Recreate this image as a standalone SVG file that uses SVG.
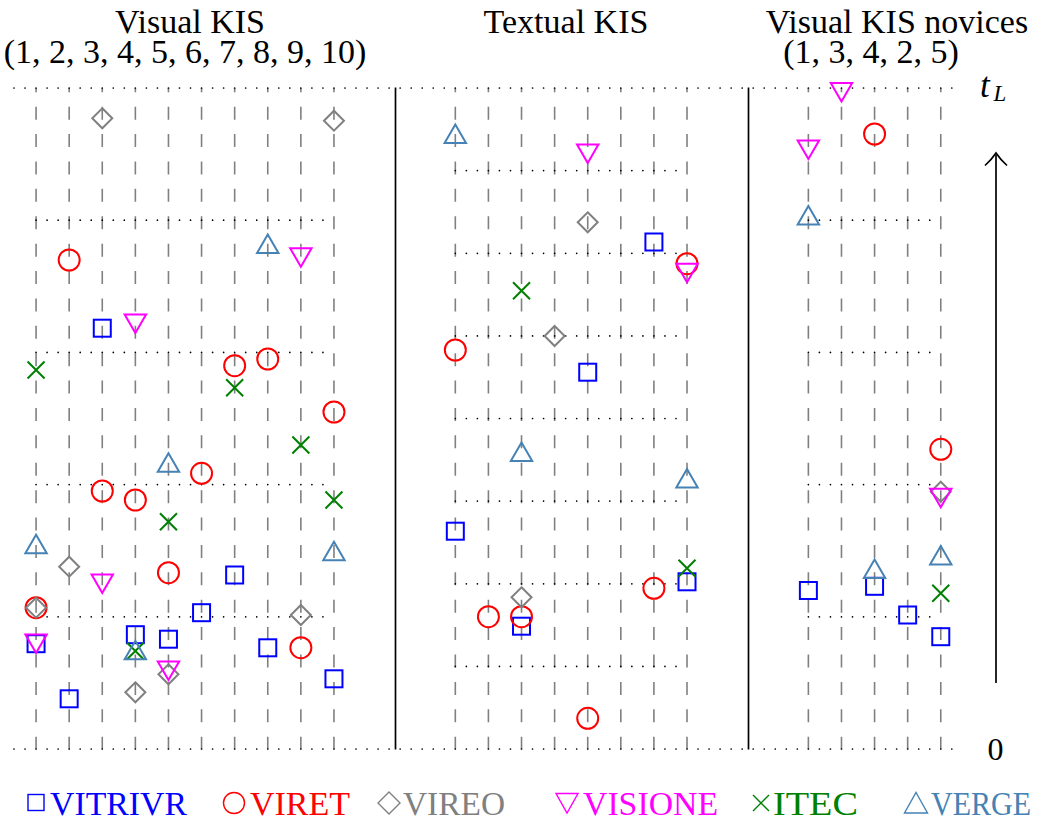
<svg xmlns="http://www.w3.org/2000/svg" xmlns:xlink="http://www.w3.org/1999/xlink" width="1043" height="821" viewBox="0 0 1043 821">
  <style>
    .title { font-family: "Liberation Serif", "DejaVu Serif", serif; font-size: 34px; fill: #000; text-anchor: middle; }
    .axis { font-family: "Liberation Serif", "DejaVu Serif", serif; fill: #000; }
    .leg { font-family: "Liberation Serif", "DejaVu Serif", serif; font-size: 34px; }
    .grid { stroke: #808080; stroke-width: 1.6; stroke-dasharray: 13 14.39; stroke-dashoffset: 8.7; fill: none; }
    .dots { stroke: #000; stroke-width: 1.7; stroke-linecap: round; stroke-dasharray: 0 11.033; fill: none; }
    .sep { stroke: #000; stroke-width: 1.7; fill: none; }
    .mk { fill: none; stroke-width: 2; }
    .lm { fill: none; stroke-width: 1.4; }
    .vitrivr { stroke: #0000ff; fill: none; }
    .viret { stroke: #ff0000; fill: none; }
    .vireo { stroke: #808080; fill: none; }
    .visione { stroke: #ff00ff; fill: none; }
    .itec { stroke: #008000; fill: none; }
    .verge { stroke: #4682b4; fill: none; }
  </style>
  <defs>
    <!-- plot marks, centred on (0,0) -->
    <rect id="sq" class="mk" x="-8.5" y="-8.5" width="17" height="17"/>
    <circle id="ci" class="mk" r="10.5"/>
    <path id="di" class="mk" d="M0,-10 L10,0 L0,10 L-10,0 Z"/>
    <path id="tu" class="mk" d="M0,-9.8 L10.7,8.8 L-10.7,8.8 Z"/>
    <path id="td" class="mk" d="M0,9.8 L10.7,-8.8 L-10.7,-8.8 Z"/>
    <path id="xx" class="mk" d="M-8.5,-8.5 L8.5,8.5 M8.5,-8.5 L-8.5,8.5"/>
  </defs>

  <!-- column titles -->
  <g id="titles">
    <text class="title"><tspan x="190" y="33">Visual KIS</tspan><tspan x="185" y="63">(1, 2, 3, 4, 5, 6, 7, 8, 9, 10)</tspan></text>
    <text class="title" x="566" y="33">Textual KIS</text>
    <text class="title"><tspan x="897" y="33">Visual KIS novices</tspan><tspan x="871" y="63">(1, 3, 4, 2, 5)</tspan></text>
  </g>

  <!-- grid: dashed session columns, dotted task bands, panel separators -->
  <g id="grid">
    <g class="grid">
      <line x1="36.07" y1="88" x2="36.07" y2="749"/>
      <line x1="69.17" y1="88" x2="69.17" y2="749"/>
      <line x1="102.27" y1="88" x2="102.27" y2="749"/>
      <line x1="135.36" y1="88" x2="135.36" y2="749"/>
      <line x1="168.46" y1="88" x2="168.46" y2="749"/>
      <line x1="201.56" y1="88" x2="201.56" y2="749"/>
      <line x1="234.66" y1="88" x2="234.66" y2="749"/>
      <line x1="267.76" y1="88" x2="267.76" y2="749"/>
      <line x1="300.86" y1="88" x2="300.86" y2="749"/>
      <line x1="333.96" y1="88" x2="333.96" y2="749"/>

      <line x1="455.32" y1="88" x2="455.32" y2="749"/>
      <line x1="488.42" y1="88" x2="488.42" y2="749"/>
      <line x1="521.52" y1="88" x2="521.52" y2="749"/>
      <line x1="554.62" y1="88" x2="554.62" y2="749"/>
      <line x1="587.72" y1="88" x2="587.72" y2="749"/>
      <line x1="620.81" y1="88" x2="620.81" y2="749"/>
      <line x1="653.91" y1="88" x2="653.91" y2="749"/>
      <line x1="687.01" y1="88" x2="687.01" y2="749"/>

      <line x1="808.38" y1="88" x2="808.38" y2="749"/>
      <line x1="841.48" y1="88" x2="841.48" y2="749"/>
      <line x1="874.57" y1="88" x2="874.57" y2="749"/>
      <line x1="907.67" y1="88" x2="907.67" y2="749"/>
      <line x1="940.77" y1="88" x2="940.77" y2="749"/>
    </g>
    <g class="dots">
      <!-- full-width bounds -->
      <line x1="14" y1="88" x2="952.8" y2="88"/>
      <line x1="14" y1="749" x2="952.8" y2="749"/>
      <!-- panel 1 bands -->
      <line x1="36.07" y1="220.2" x2="333.96" y2="220.2"/>
      <line x1="36.07" y1="352.4" x2="333.96" y2="352.4"/>
      <line x1="36.07" y1="484.6" x2="333.96" y2="484.6"/>
      <line x1="36.07" y1="616.8" x2="333.96" y2="616.8"/>
      <!-- panel 2 bands -->
      <line x1="455.32" y1="170.6" x2="687.01" y2="170.6"/>
      <line x1="455.32" y1="253.3" x2="687.01" y2="253.3"/>
      <line x1="455.32" y1="335.9" x2="687.01" y2="335.9"/>
      <line x1="455.32" y1="418.5" x2="687.01" y2="418.5"/>
      <line x1="455.32" y1="501.1" x2="687.01" y2="501.1"/>
      <line x1="455.32" y1="583.8" x2="687.01" y2="583.8"/>
      <line x1="455.32" y1="666.4" x2="687.01" y2="666.4"/>
      <!-- panel 3 bands -->
      <line x1="808.38" y1="220.2" x2="940.77" y2="220.2"/>
      <line x1="808.38" y1="352.4" x2="940.77" y2="352.4"/>
      <line x1="808.38" y1="484.6" x2="940.77" y2="484.6"/>
      <line x1="808.38" y1="616.8" x2="940.77" y2="616.8"/>
    </g>
    <g class="sep">
      <line x1="395.5" y1="87.5" x2="395.5" y2="749.5"/>
      <line x1="748.5" y1="87.5" x2="748.5" y2="749.5"/>
    </g>
  </g>

  <!-- time axis -->
  <g id="axis">
    <line class="sep" x1="996" y1="683" x2="996" y2="155"/>
    <path class="sep" d="M985,165.5 Q992,159 996,153 Q1000,159 1007,165.5"/>
    <text class="axis" x="980" y="97" font-size="35" font-style="italic">t</text>
    <text class="axis" x="993.5" y="101" font-size="23" font-style="italic">L</text>
    <text class="axis" x="995.5" y="760" font-size="32" text-anchor="middle">0</text>
  </g>

  <!-- Visual KIS -->
  <g id="panel-visual">
    <g id="p1-vitrivr" class="vitrivr">
      <use href="#sq" x="102.27" y="328.2"/>
      <use href="#sq" x="234.66" y="575"/>
      <use href="#sq" x="201.56" y="612.7"/>
      <use href="#sq" x="36.07" y="643.7"/>
      <use href="#sq" x="135.36" y="634.7"/>
      <use href="#sq" x="168.46" y="639.2"/>
      <use href="#sq" x="267.76" y="647.8"/>
      <use href="#sq" x="333.96" y="678.8"/>
      <use href="#sq" x="69.17" y="698.8"/>
    </g>
    <g id="p1-viret" class="viret">
      <use href="#ci" x="69.17" y="260"/>
      <use href="#ci" x="234.66" y="365.7"/>
      <use href="#ci" x="267.76" y="359"/>
      <use href="#ci" x="333.96" y="412"/>
      <use href="#ci" x="201.56" y="473.3"/>
      <use href="#ci" x="102.27" y="491"/>
      <use href="#ci" x="135.36" y="500"/>
      <use href="#ci" x="168.46" y="572.7"/>
      <use href="#ci" x="36.07" y="607.7"/>
      <use href="#ci" x="300.86" y="647.7"/>
    </g>
    <g id="p1-vireo" class="vireo">
      <use href="#di" x="102.27" y="118.3"/>
      <use href="#di" x="333.96" y="120.7"/>
      <use href="#di" x="69.17" y="566.7"/>
      <use href="#di" x="36.07" y="607.7"/>
      <use href="#di" x="300.86" y="615"/>
      <use href="#di" x="168.46" y="674.3"/>
      <use href="#di" x="135.36" y="692.3"/>
    </g>
    <g id="p1-visione" class="visione">
      <use href="#td" x="300.86" y="257"/>
      <use href="#td" x="135.36" y="323.3"/>
      <use href="#td" x="102.27" y="583.3"/>
      <use href="#td" x="36.07" y="643.3"/>
      <use href="#td" x="168.46" y="670.2"/>
    </g>
    <g id="p1-itec" class="itec">
      <use href="#xx" x="36.07" y="370"/>
      <use href="#xx" x="234.66" y="387.7"/>
      <use href="#xx" x="300.86" y="445"/>
      <use href="#xx" x="333.96" y="500"/>
      <use href="#xx" x="168.46" y="521.7"/>
      <use href="#xx" x="135.36" y="651"/>
    </g>
    <g id="p1-verge" class="verge">
      <use href="#tu" x="267.76" y="244.2"/>
      <use href="#tu" x="168.46" y="463"/>
      <use href="#tu" x="36.07" y="544.5"/>
      <use href="#tu" x="333.96" y="551.5"/>
      <use href="#tu" x="135.36" y="650.5"/>
    </g>
  </g>

  <!-- Textual KIS -->
  <g id="panel-textual">
    <g id="p2-vitrivr" class="vitrivr">
      <use href="#sq" x="653.91" y="242"/>
      <use href="#sq" x="587.72" y="372.2"/>
      <use href="#sq" x="455.32" y="531.2"/>
      <use href="#sq" x="687.01" y="581.8"/>
      <use href="#sq" x="521.52" y="626.2"/>
    </g>
    <g id="p2-viret" class="viret">
      <use href="#ci" x="687.01" y="263.7"/>
      <use href="#ci" x="455.32" y="350"/>
      <use href="#ci" x="653.91" y="588.3"/>
      <use href="#ci" x="488.42" y="616.7"/>
      <use href="#ci" x="521.52" y="616.7"/>
      <use href="#ci" x="587.72" y="718.3"/>
    </g>
    <g id="p2-vireo" class="vireo">
      <use href="#di" x="587.72" y="222.3"/>
      <use href="#di" x="554.62" y="336"/>
      <use href="#di" x="521.52" y="597.3"/>
    </g>
    <g id="p2-visione" class="visione">
      <use href="#td" x="587.72" y="153.2"/>
      <use href="#td" x="687.01" y="272.5"/>
    </g>
    <g id="p2-itec" class="itec">
      <use href="#xx" x="521.52" y="290.7"/>
      <use href="#xx" x="687.01" y="568.3"/>
    </g>
    <g id="p2-verge" class="verge">
      <use href="#tu" x="455.32" y="134.2"/>
      <use href="#tu" x="521.52" y="452.3"/>
      <use href="#tu" x="687.01" y="478.8"/>
    </g>
  </g>

  <!-- Visual KIS novices -->
  <g id="panel-novices">
    <g id="p3-vitrivr" class="vitrivr">
      <use href="#sq" x="874.57" y="586.3"/>
      <use href="#sq" x="808.38" y="590.5"/>
      <use href="#sq" x="907.67" y="615"/>
      <use href="#sq" x="940.77" y="636.7"/>
    </g>
    <g id="p3-viret" class="viret">
      <use href="#ci" x="874.57" y="134"/>
      <use href="#ci" x="940.77" y="449.3"/>
    </g>
    <g id="p3-vireo" class="vireo">
      <use href="#di" x="940.77" y="491.7"/>
    </g>
    <g id="p3-visione" class="visione">
      <use href="#td" x="841.48" y="91.8"/>
      <use href="#td" x="808.38" y="149.2"/>
      <use href="#td" x="940.77" y="497.5"/>
    </g>
    <g id="p3-itec" class="itec">
      <use href="#xx" x="940.77" y="593.3"/>
    </g>
    <g id="p3-verge" class="verge">
      <use href="#tu" x="808.38" y="215.8"/>
      <use href="#tu" x="940.77" y="555.8"/>
      <use href="#tu" x="874.57" y="569.2"/>
    </g>
  </g>

  <!-- legend -->
  <g id="legend">
    <g id="leg-vitrivr">
      <rect class="lm vitrivr" x="28" y="794.5" width="16" height="16"/>
      <text class="leg" x="50" y="815" fill="#0000ff" textLength="137" lengthAdjust="spacingAndGlyphs">VITRIVR</text>
    </g>
    <g id="leg-viret">
      <circle class="lm viret" cx="234" cy="803" r="10.5"/>
      <text class="leg" x="250" y="815" fill="#ff0000" textLength="100" lengthAdjust="spacingAndGlyphs">VIRET</text>
    </g>
    <g id="leg-vireo">
      <path class="lm vireo" d="M389,792 L400,803 L389,814 L378,803 Z"/>
      <text class="leg" x="403" y="815" fill="#808080" textLength="102" lengthAdjust="spacingAndGlyphs">VIREO</text>
    </g>
    <g id="leg-visione">
      <path class="lm visione" d="M556,793.5 L578,793.5 L567,813 Z"/>
      <text class="leg" x="583" y="815" fill="#ff00ff" textLength="135" lengthAdjust="spacingAndGlyphs">VISIONE</text>
    </g>
    <g id="leg-itec">
      <path class="lm itec" d="M753,795 L769,811 M769,795 L753,811"/>
      <text class="leg" x="773" y="815" fill="#008000" textLength="85" lengthAdjust="spacingAndGlyphs">ITEC</text>
    </g>
    <g id="leg-verge">
      <path class="lm verge" d="M916,792.5 L927.5,813 L904.5,813 Z"/>
      <text class="leg" x="931" y="815" fill="#4682b4" font-size="30" textLength="100" lengthAdjust="spacingAndGlyphs">VERGE</text>
    </g>
  </g>
</svg>
